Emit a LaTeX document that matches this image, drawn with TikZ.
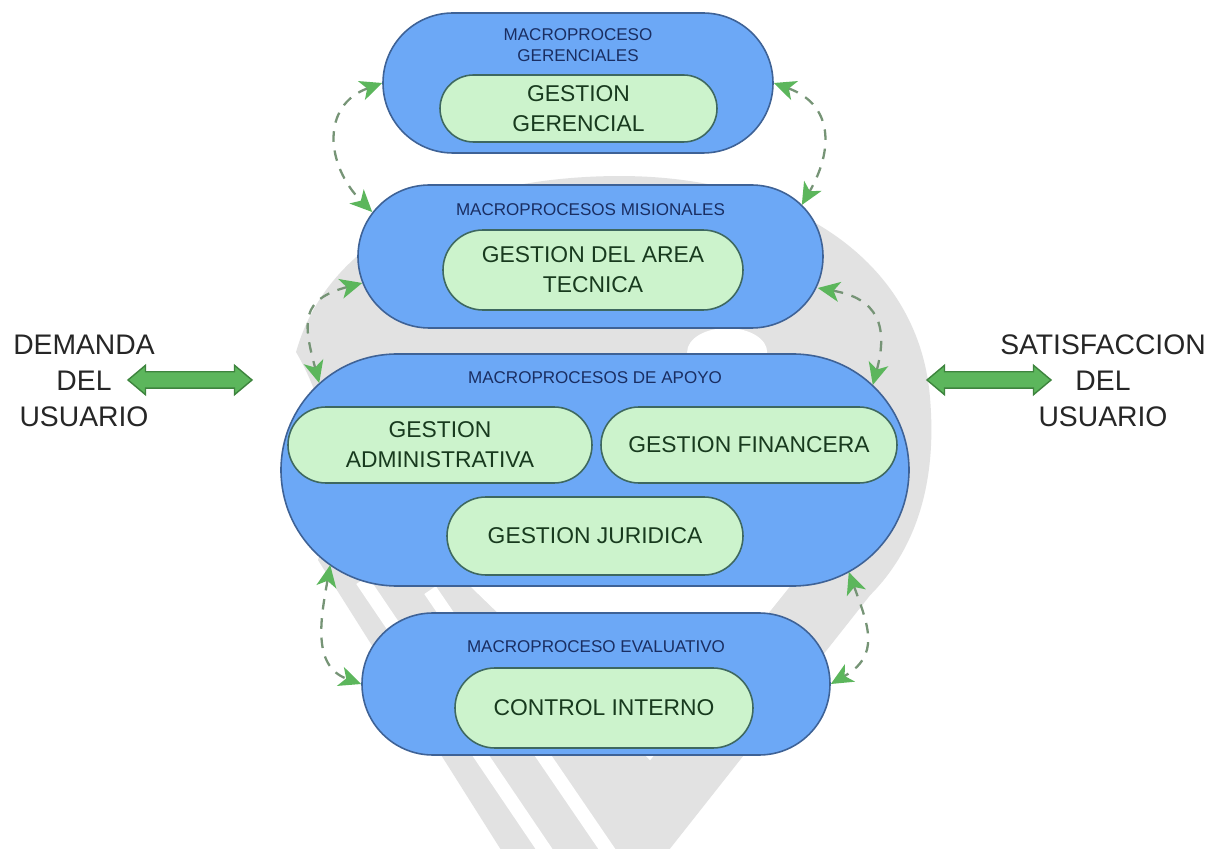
\documentclass[tikz,border=0pt]{standalone}
\usepackage{fontspec}
\setmainfont{Liberation Sans}
\usetikzlibrary{arrows.meta,positioning,shapes.misc,shapes.arrows}
\definecolor{macrofill}{RGB}{108,168,246}
\definecolor{macroline}{RGB}{62,98,150}
\definecolor{procfill}{RGB}{204,243,204}
\definecolor{procline}{RGB}{62,104,96}
\definecolor{procink}{RGB}{24,58,30}
\definecolor{tagink}{RGB}{26,46,98}
\definecolor{sideink}{RGB}{38,38,38}
\definecolor{flowfill}{RGB}{92,182,92}
\definecolor{flowline}{RGB}{62,132,62}
\definecolor{dashink}{RGB}{118,148,118}
\definecolor{markgray}{RGB}{226,226,226}

\begin{document}
\begin{tikzpicture}[
    every node/.style={align=center},
    macrobox/.style={rounded rectangle, draw=macroline, fill=macrofill,
                     line width=0.9pt, inner sep=0pt},
    procbox/.style={rounded rectangle, draw=procline, fill=procfill,
                    line width=0.9pt, inner sep=0pt, text=procink,
                    font=\fontsize{13}{17}\selectfont},
    tag/.style={text=tagink, font=\fontsize{9.7}{12.4}\selectfont},
    sidetag/.style={text=sideink, font=\fontsize{16.1}{20.5}\selectfont},
    flowarrow/.style={double arrow, draw=flowline, fill=flowfill,
                      line width=0.8pt, minimum height=2.48cm,
                      inner xsep=0pt, inner ysep=0.15cm,
                      double arrow head extend=0.13cm,
                      double arrow tip angle=80},
    arr/.style={draw=dashink, line width=1.3pt, dash pattern=on 6pt off 5pt,
                {Stealth[length=0.44cm,width=0.4cm,inset=0.12cm,color=flowfill]}-{Stealth[length=0.44cm,width=0.4cm,inset=0.12cm,color=flowfill]}}
  ]
  \useasboundingbox[fill=white] (0,0) rectangle (24.38,-16.98);

  \begin{scope}[x=0.02cm, y=-0.02cm]
    \fill[markgray] (296,352) .. controls (330,230) and (470,176) .. (620,176)
      .. controls (790,176) and (920,260) .. (930,400)
      .. controls (938,500) and (905,560) .. (870,595)
      -- (645,880) -- (520,880) -- (318,560)
      .. controls (340,480) and (330,410) .. (296,352) -- cycle;
    \draw[white, line width=0.28cm] (362,580) -- (565,880);
    \draw[white, line width=0.28cm] (430,590) -- (628,880);
    \fill[white] (470,586) -- (790,586) -- (650,760) -- cycle;
    \fill[white] (727,352) ellipse (40 and 24);
  \end{scope}

  \node[macrobox, minimum width=7.8cm, minimum height=2.8cm] (ger) at (11.56,-1.66) {};
  \node[tag] (gerTag) at ([yshift=-0.66cm]ger.north) {MACROPROCESO\\GERENCIALES};
  \node[procbox, minimum width=5.54cm, minimum height=1.34cm] (gerProc) at (11.57,-2.17) {GESTION\\GERENCIAL};

  \node[macrobox, minimum width=9.3cm, minimum height=2.86cm] (msn) at (11.81,-5.13) {};
  \node[tag] (msnTag) at ([yshift=-0.5cm]msn.north) {MACROPROCESOS MISIONALES};
  \node[procbox, minimum width=6.0cm, minimum height=1.6cm] (msnProc) at (11.86,-5.4) {GESTION DEL AREA\\TECNICA};

  \node[macrobox, minimum width=12.56cm, minimum height=4.64cm] (apy) at (11.9,-9.4) {};
  \node[tag] (apyTag) at ([yshift=-0.48cm]apy.north) {MACROPROCESOS DE APOYO};
  \node[procbox, minimum width=6.08cm, minimum height=1.52cm] (adm) at (8.8,-8.9) {GESTION\\ADMINISTRATIVA};
  \node[procbox, minimum width=5.92cm, minimum height=1.52cm] (fin) at (14.98,-8.9) {GESTION FINANCERA};
  \node[procbox, minimum width=5.92cm, minimum height=1.56cm] (jur) at (11.9,-10.72) {GESTION JURIDICA};

  \node[macrobox, minimum width=9.36cm, minimum height=2.84cm] (evl) at (11.92,-13.68) {};
  \node[tag] (evlTag) at ([yshift=-0.68cm]evl.north) {MACROPROCESO EVALUATIVO};
  \node[procbox, minimum width=5.96cm, minimum height=1.6cm] (ctl) at (12.08,-14.16) {CONTROL INTERNO};

  \node[sidetag] (dem) at (1.68,-7.62) {DEMANDA\\DEL\\USUARIO};
  \node[flowarrow] (demArrow) at (3.8,-7.6) {};
  \node[sidetag] (sat) at (22.06,-7.62) {SATISFACCION\\DEL\\USUARIO};
  \node[flowarrow] (satArrow) at (19.78,-7.6) {};

  \draw[arr] (ger.west) to[out=200, in=135, looseness=1.3] ([shift={(0.3,0.89)}]msn.west);
  \draw[arr] ([shift={(0.1,-0.53)}]msn.west) to[out=195, in=105, looseness=1.5] ([shift={(0.78,1.74)}]apy.west);
  \draw[arr] ([shift={(1.0,-1.9)}]apy.west) to[out=260, in=160, looseness=1.1] (evl.west);
  \draw[arr] (ger.east) to[out=-20, in=60, looseness=1.3] ([shift={(-0.44,1.03)}]msn.east);
  \draw[arr] ([shift={(-0.12,-0.63)}]msn.east) to[out=-10, in=75, looseness=1.4] ([shift={(-0.74,1.7)}]apy.east);
  \draw[arr] ([shift={(-1.22,-2.04)}]apy.east) to[out=-70, in=30, looseness=1.3] (evl.east);
\end{tikzpicture}
\end{document}
